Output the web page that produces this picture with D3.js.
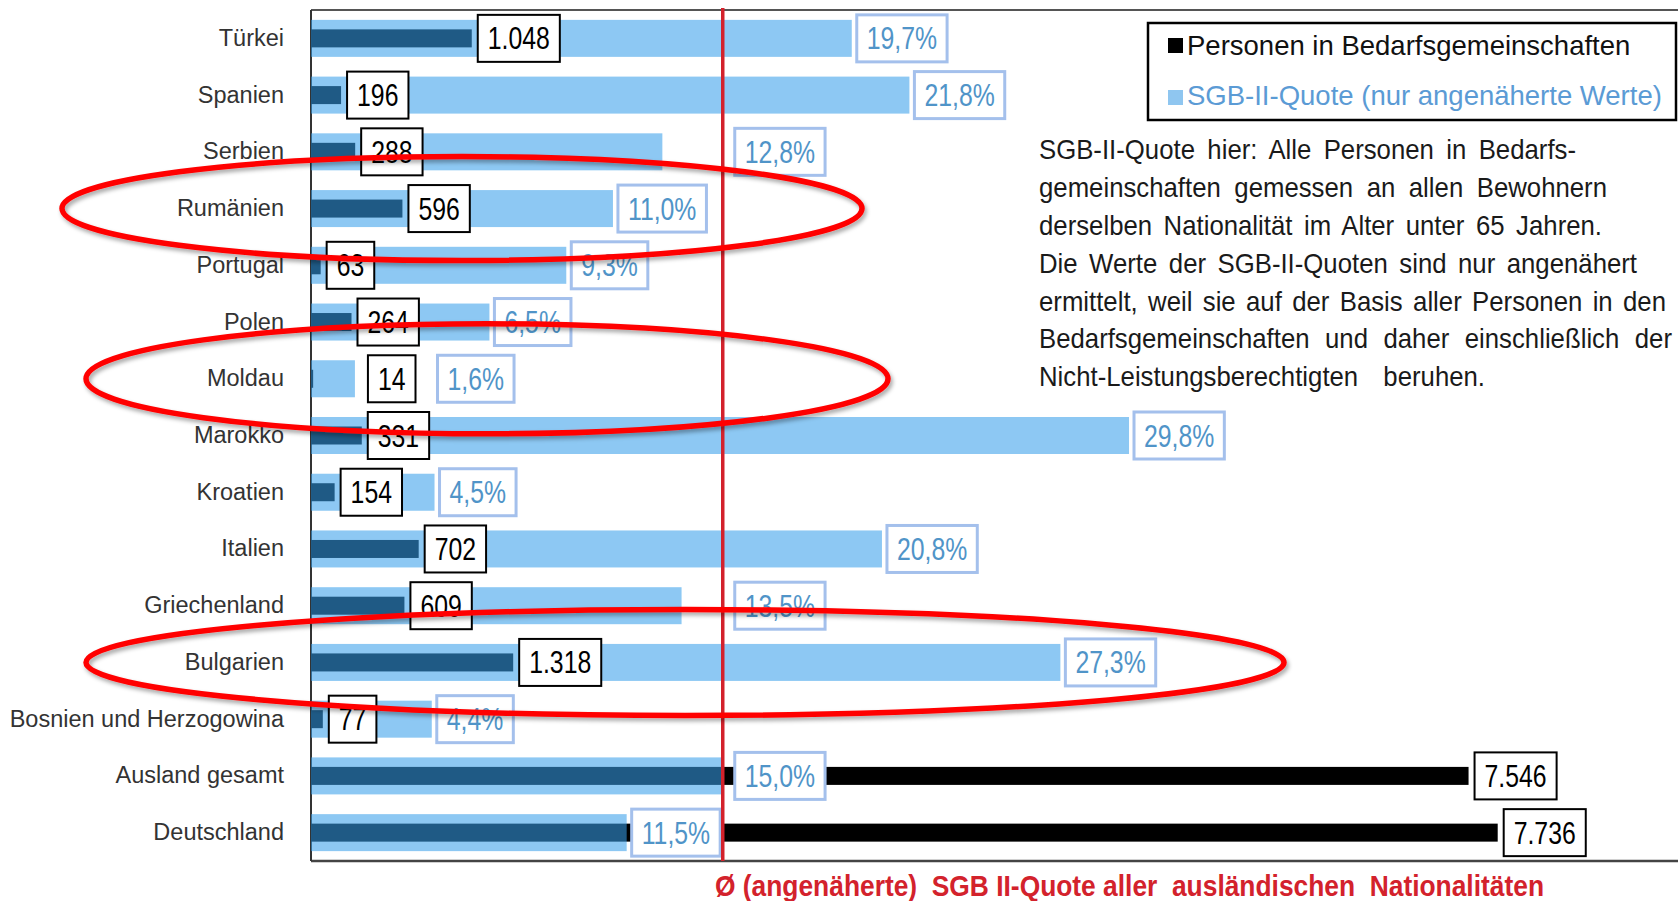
<!DOCTYPE html>
<html>
<head>
<meta charset="utf-8">
<script src="https://cdn.jsdelivr.net/npm/d3@7"></script>
<style>
  body { margin: 0; background: #fff; }
</style>
</head>
<body>
<script>
const countries = ['Türkei', 'Spanien', 'Serbien', 'Rumänien', 'Portugal', 'Polen', 'Moldau', 'Marokko',
  'Kroatien', 'Italien', 'Griechenland', 'Bulgarien', 'Bosnien und Herzogowina', 'Ausland gesamt', 'Deutschland'];
const personen = [1048, 196, 288, 596, 63, 264, 14, 331, 154, 702, 609, 1318, 77, 7546, 7736];
const quote = [19.7, 21.8, 12.8, 11.0, 9.3, 6.5, 1.6, 29.8, 4.5, 20.8, 13.5, 27.3, 4.4, 15.0, 11.5];
const avgQuote = 15.0;
const legendLabels = ['Personen in Bedarfsgemeinschaften', 'SGB-II-Quote (nur angenäherte Werte)'];
const noteLines = [
  'SGB-II-Quote hier: Alle Personen in Bedarfs-',
  'gemeinschaften gemessen an allen Bewohnern',
  'derselben Nationalität im Alter unter 65 Jahren.',
  'Die Werte der SGB-II-Quoten sind nur angenähert',
  'ermittelt, weil sie auf der Basis aller Personen in den',
  'Bedarfsgemeinschaften und daher einschließlich der',
  'Nicht-Leistungsberechtigten beruhen.'
];
const footerText = 'Ø (angenäherte)  SGB II-Quote aller  ausländischen  Nationalitäten';
const marked = ['Rumänien', 'Moldau', 'Bulgarien'];

const W = 1678, H = 901;
const plotLeft = 311, plotTop = 10, plotBottom = 861;
const font = '"Liberation Sans", Arial, sans-serif';

const svg = d3.select('body').append('svg').attr('width', W).attr('height', H);
const defs = svg.append('defs');
const shadow = defs.append('filter').attr('id', 'shadow')
  .attr('x', '-5%').attr('y', '-20%').attr('width', '110%').attr('height', '140%');
shadow.append('feDropShadow').attr('dx', 2).attr('dy', 3).attr('stdDeviation', 2)
  .attr('flood-color', '#000').attr('flood-opacity', 0.35);

const de = d3.formatLocale({decimal: ',', thousands: '.', grouping: [3], currency: ['', ' €']});
const fmtCnt = de.format(',d');
const fmtPct = d => de.format('.1f')(d) + '%';

const xPct = d3.scaleLinear().domain([0, 30]).range([plotLeft, plotLeft + 30 * 27.45]);
const xCnt = d3.scaleLinear().domain([0, 8000]).range([plotLeft, plotLeft + 8000 * 0.1534]);
const y = d3.scaleBand().domain(countries).range([plotTop, plotBottom]);
const bw = y.bandwidth();

const rows = countries.map((c, i) => ({c, n: personen[i], q: quote[i]}));

// frame
svg.append('line').attr('x1', plotLeft).attr('x2', W).attr('y1', plotTop).attr('y2', plotTop)
  .attr('stroke', '#555').attr('stroke-width', 2);
svg.append('line').attr('x1', plotLeft).attr('x2', W).attr('y1', plotBottom).attr('y2', plotBottom)
  .attr('stroke', '#444').attr('stroke-width', 2.5);
svg.append('line').attr('x1', plotLeft).attr('x2', plotLeft).attr('y1', plotTop).attr('y2', plotBottom)
  .attr('stroke', '#333').attr('stroke-width', 2);

// category axis
const axis = svg.append('g').attr('transform', `translate(${plotLeft},0)`)
  .call(d3.axisLeft(y).tickSize(0).tickPadding(27));
axis.select('.domain').remove();
axis.selectAll('text').attr('font-family', font).attr('font-size', 23.5).attr('fill', '#333');

// persons (black) below, quote (translucent blue) on top
const darkH = 18, lightH = 37;
svg.append('g').selectAll('rect').data(rows).join('rect')
  .attr('x', plotLeft).attr('y', d => y(d.c) + bw / 2 - darkH / 2)
  .attr('width', d => xCnt(d.n) - plotLeft).attr('height', darkH).attr('fill', '#000');
svg.append('g').selectAll('rect').data(rows).join('rect')
  .attr('x', plotLeft).attr('y', d => y(d.c) + bw / 2 - lightH / 2)
  .attr('width', d => xPct(d.q) - plotLeft).attr('height', lightH)
  .attr('fill', 'rgb(54,158,234)').attr('fill-opacity', 0.57);

function narrow(sel, ratio) {
  sel.each(function () {
    const w = this.getComputedTextLength() * ratio;
    d3.select(this).attr('textLength', w).attr('lengthAdjust', 'spacingAndGlyphs');
    this.__w = w;
  });
}

const redX = xPct(avgQuote);
const boxH = 47;
const labels = svg.append('g');
rows.forEach(d => {
  const cy = y(d.c) + bw / 2;
  const darkEnd = xCnt(d.n), lightEnd = xPct(d.q);

  const cg = labels.append('g');
  const cRect = cg.append('rect');
  const cText = cg.append('text').text(fmtCnt(d.n))
    .attr('font-family', font).attr('font-size', 31).attr('fill', '#000');
  narrow(cText, 0.8);
  const cW = cText.node().__w + 20;
  let cLeft = darkEnd + 6;
  let moved = false;
  if (darkEnd < lightEnd && cLeft + cW > lightEnd - 8) { cLeft = lightEnd + 13; moved = true; }
  cRect.attr('x', cLeft).attr('y', cy - boxH / 2).attr('width', cW).attr('height', boxH)
    .attr('fill', '#fff').attr('stroke', '#000').attr('stroke-width', 2);
  cText.attr('x', cLeft + 10).attr('y', cy + 11);

  const pg = labels.append('g');
  const pRect = pg.append('rect');
  const pText = pg.append('text').text(fmtPct(d.q))
    .attr('font-family', font).attr('font-size', 31).attr('fill', '#5094c8');
  narrow(pText, 0.8);
  const pW = pText.node().__w + 20;
  let pLeft = lightEnd + 5;
  if (moved) pLeft = Math.max(pLeft, cLeft + cW + 22);
  if (pLeft < redX + 15 && pLeft + pW > redX + 5) pLeft = redX + 12;
  pRect.attr('x', pLeft).attr('y', cy - boxH / 2).attr('width', pW).attr('height', boxH)
    .attr('fill', '#fff').attr('stroke', '#a4c0ec').attr('stroke-width', 3);
  pText.attr('x', pLeft + 10).attr('y', cy + 11);
});

// average line
svg.append('line').attr('x1', redX).attr('x2', redX).attr('y1', plotTop - 2).attr('y2', plotBottom)
  .attr('stroke', '#d3222c').attr('stroke-width', 3.5);

// footer
const foot = svg.append('text').attr('x', 715).attr('y', 896).text(footerText)
  .attr('font-family', font).attr('font-size', 30).attr('font-weight', 'bold')
  .attr('fill', '#d3222c').style('white-space', 'pre');
foot.attr('textLength', 829).attr('lengthAdjust', 'spacingAndGlyphs');

// legend
const lg = svg.append('g').attr('transform', 'translate(1148,23)');
lg.append('rect').attr('width', 528).attr('height', 97)
  .attr('fill', '#fff').attr('stroke', '#000').attr('stroke-width', 2.5);
const legColors = ['#000', '#8fc6f0'];
const legText = ['#111', '#5b9bd5'];
legendLabels.forEach((t, i) => {
  lg.append('rect').attr('x', 20).attr('y', 15 + i * 52).attr('width', 15).attr('height', 15)
    .attr('fill', legColors[i]);
  lg.append('text').attr('x', 39).attr('y', 32 + i * 50).text(t)
    .attr('font-family', font).attr('font-size', 27.5).attr('fill', legText[i]);
});

// note text, slightly condensed, justified line by line
const noteScale = 0.92;
const noteWidths = [537, 568, 563, 598, 627, 633, 446];
const note = svg.append('g').attr('transform', `translate(1039,0) scale(${noteScale},1)`);
noteLines.forEach((t, i) => {
  const tx = note.append('text').attr('x', 0).attr('y', 159 + i * 37.9).text(t)
    .attr('font-family', font).attr('font-size', 28).attr('fill', '#1a1a1a');
  const nat = tx.node().getComputedTextLength();
  const gaps = t.split(' ').length - 1;
  if (gaps > 0) tx.attr('word-spacing', Math.max(0, (noteWidths[i] / noteScale - nat) / gaps));
});

// red rings around highlighted rows
const rings = [
  {c: marked[0], cx: 462, rx: 400, ry: 52},
  {c: marked[1], cx: 487, rx: 401, ry: 55},
  {c: marked[2], cx: 685, rx: 599, ry: 53}
];
svg.append('g').attr('filter', 'url(#shadow)').selectAll('ellipse').data(rings).join('ellipse')
  .attr('cx', d => d.cx).attr('cy', d => y(d.c) + bw / 2)
  .attr('rx', d => d.rx).attr('ry', d => d.ry)
  .attr('fill', 'none').attr('stroke', '#ff0000').attr('stroke-width', 5.5);
</script>
</body>
</html>
